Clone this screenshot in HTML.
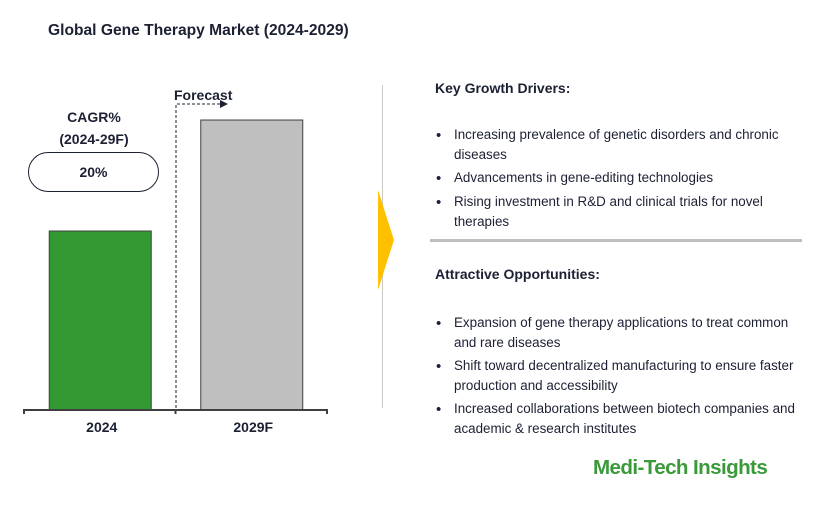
<!DOCTYPE html>
<html><head><meta charset="utf-8"><style>
body{margin:0;width:817px;height:521px;background:#fff;font-family:"Liberation Sans",sans-serif;color:#1c2033;position:relative;overflow:hidden}
.t{position:absolute;white-space:nowrap}
.b{font-size:13.4px;line-height:20px}
.dot{position:absolute;font-size:15px}
</style></head><body>
<div class="t" style="left:48px;top:22px;font-size:15.6px;font-weight:bold">Global Gene Therapy Market (2024-2029)</div>
<svg id="chart" width="380" height="450" style="position:absolute;left:0;top:0">
</svg>
<div class="t" style="left:30px;top:106px;width:128px;text-align:center;font-size:14px;font-weight:bold;line-height:22px;white-space:normal">CAGR%<br>(2024-29F)</div>
<div style="position:absolute;left:28px;top:152px;width:129px;height:38px;border:1px solid #1c2033;border-radius:20px;text-align:center;line-height:38px;font-size:14px;font-weight:bold">20%</div>
<div class="t" style="left:174px;top:87px;font-size:14px;font-weight:bold">Forecast</div>
<div style="position:absolute;left:382px;top:85px;width:1px;height:323px;background:#c8c8c8"></div>
<svg width="20" height="110" style="position:absolute;left:377px;top:188px"><polygon points="1,2 17,52 1,102" fill="#ffc000"/></svg>
<div class="t" style="left:435px;top:80px;font-size:14px;font-weight:bold">Key Growth Drivers:</div>
<div class="b t" style="left:454px;top:125px">Increasing prevalence of genetic disorders and chronic<br>diseases</div>
<div class="b t" style="left:454px;top:168px">Advancements in gene-editing technologies</div>
<div class="b t" style="left:454px;top:192px">Rising investment in R&amp;D and clinical trials for novel<br>therapies</div>
<div class="dot" style="left:436px;top:127px">•</div>
<div class="dot" style="left:436px;top:170px">•</div>
<div class="dot" style="left:436px;top:194px">•</div>
<div style="position:absolute;left:430px;top:239px;width:372px;height:3px;background:#bfbfbf"></div>
<div class="t" style="left:435px;top:266px;font-size:14px;font-weight:bold">Attractive Opportunities:</div>
<div class="b t" style="left:454px;top:313px">Expansion of gene therapy applications to treat common<br>and rare diseases</div>
<div class="b t" style="left:454px;top:356px">Shift toward decentralized manufacturing to ensure faster<br>production and accessibility</div>
<div class="b t" style="left:454px;top:399px">Increased collaborations between biotech companies and<br>academic &amp; research institutes</div>
<div class="dot" style="left:436px;top:315px">•</div>
<div class="dot" style="left:436px;top:358px">•</div>
<div class="dot" style="left:436px;top:401px">•</div>
<div class="t" style="left:593px;top:456px;font-size:20.6px;font-weight:bold;color:#3a9a3a;letter-spacing:-0.6px">Medi-Tech Insights</div>
<script>
const categories=["2024","2029F"];
const values=[100,162];
const colors=["#339933","#bfbfbf"];
const svg=document.getElementById('chart');
const NS="http://www.w3.org/2000/svg";
const base=410, pxPerUnit=179/100, x0=24, band=151.5, barW=102;
function y(v){return base-v*pxPerUnit;}
function xc(i){return x0+band*i+band/2;}
function mk(t,a){const e=document.createElementNS(NS,t);for(const k in a)e.setAttribute(k,a[k]);svg.appendChild(e);return e;}
values.forEach((v,i)=>{
 const r=mk('rect',{x:xc(i)-barW/2+0.5,y:y(v),width:barW,height:base-y(v),fill:colors[i],stroke:'#404040','stroke-width':1});
 
 
 const t=mk('text',{x:xc(i)+2,y:432,'text-anchor':'middle','font-size':14,'font-weight':'bold',fill:'#1c2033','font-family':'Liberation Sans, sans-serif'});
 t.textContent=categories[i];
 
 
});
const ax=mk('path',{d:`M${x0} 414V410H${x0+2*band}V414M${x0+band} 410V414`,stroke:'#404040','stroke-width':2,fill:'none'});


const dl=mk('path',{d:'M176 408V104H222',stroke:'#1c2033','stroke-width':1,'stroke-dasharray':'3,2',fill:'none'});


const ah=mk('polygon',{points:'220,100 228,104 220,108',fill:'#1c2033'});


</script>
</body></html>
